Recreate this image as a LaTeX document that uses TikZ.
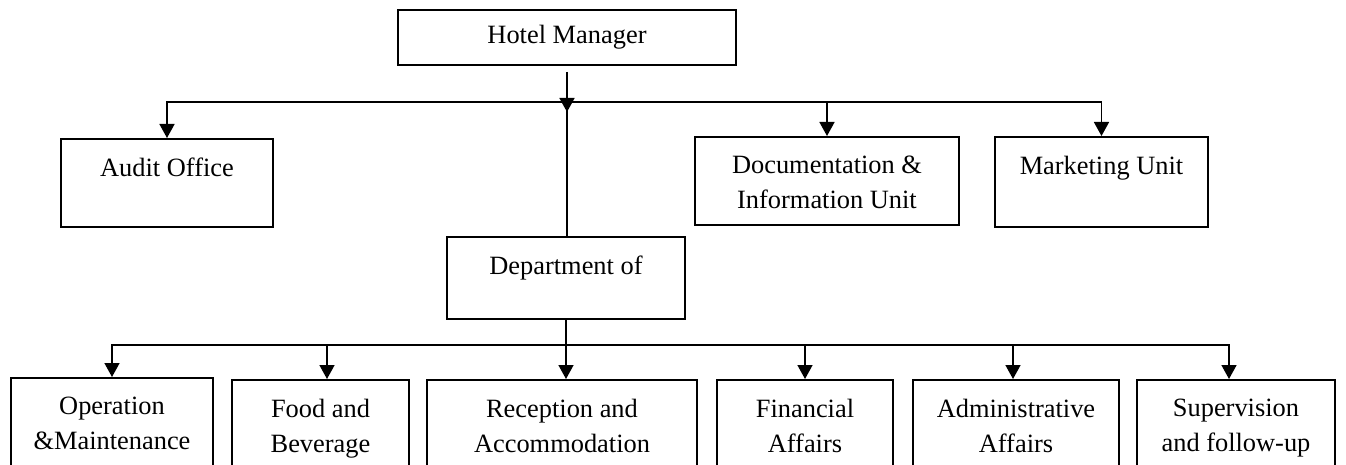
\documentclass[tikz,border=0pt]{standalone}
\usepackage{fontspec}
\setmainfont{Liberation Serif}
\usetikzlibrary{arrows.meta}

\begin{document}
\begin{tikzpicture}[
  x=0.5pt, y=-0.5pt,
  box/.style={draw, line width=1pt, inner sep=0pt},
  lbl/.style={font=\fontsize{13.2pt}{17.4pt}\selectfont, align=center, inner sep=0pt, anchor=north},
  link/.style={line width=0.8pt},
  arr/.style={line width=0.8pt, -{Triangle[width=7.5pt,length=7pt]}}
]
\useasboundingbox (0,0) rectangle (1346,465);
\clip (0,0) rectangle (1346,465);

% top level
\node[box, minimum width=169pt, minimum height=27.5pt,
      font=\fontsize{13.2pt}{17.4pt}\selectfont] (hm) at (567,37.5) {Hotel Manager};

% units reporting to the manager
\node[box, minimum width=106pt, minimum height=44pt] (audit) at (167,183) {};
\node[lbl] (audit-t) at (167,158) {Audit Office};

\node[box, minimum width=132pt, minimum height=44pt] (doc) at (827,181) {};
\node[lbl] (doc-t) at (827,156) {Documentation \&\\Information Unit};

\node[box, minimum width=106.5pt, minimum height=45pt] (mkt) at (1101.5,182) {};
\node[lbl] (mkt-t) at (1101.5,156) {Marketing Unit};

\node[box, minimum width=119pt, minimum height=41pt] (dept) at (566,278) {};
\node[lbl] (dept-t) at (566,256) {Department of};

% departments (run past the lower edge)
\node[box, minimum width=101pt, minimum height=61pt] (op) at (112,439) {};
\node[lbl] (op-t) at (112,397) {Operation\\\&Maintenance};

\node[box, minimum width=88.5pt, minimum height=60pt] (food) at (320.5,440) {};
\node[lbl] (food-t) at (320.5,399) {Food and\\Beverage};

\node[box, minimum width=135pt, minimum height=60pt] (recep) at (562,440) {};
\node[lbl] (recep-t) at (562,399) {Reception and\\Accommodation};

\node[box, minimum width=88pt, minimum height=60pt] (fin) at (805,440) {};
\node[lbl] (fin-t) at (805,399) {Financial\\Affairs};

\node[box, minimum width=103pt, minimum height=60pt] (admin) at (1016,440) {};
\node[lbl] (admin-t) at (1016,399) {Administrative\\Affairs};

\node[box, minimum width=99pt, minimum height=60pt] (sup) at (1236,440) {};
\node[lbl] (sup-t) at (1236,399) {Supervision\\and follow-up};

% connectors from the manager
\coordinate (hub1) at (567,102);
\coordinate (tip1) at (567,112);
\draw[arr, shorten <=3pt] (hm.south) -- (tip1);
\draw[arr] (hub1) -| (audit.north);
\draw[arr] (hub1) -| (doc.north);
\draw[arr] (hub1) -| (mkt.north);
\draw[link] (hub1) -- (hub1 |- dept.north);

% connectors from the department
\coordinate (hub2) at (566,345);
\draw[arr] (dept.south) -- (dept.south |- recep.north);
\draw[arr] (hub2) -| (op.north);
\draw[arr] (hub2) -| ([xshift=3.25pt]food.north);
\draw[arr] (hub2) -| (fin.north);
\draw[arr] (hub2) -| ([xshift=-1.5pt]admin.north);
\draw[arr] (hub2) -| ([xshift=-3.5pt]sup.north);
\end{tikzpicture}
\end{document}
